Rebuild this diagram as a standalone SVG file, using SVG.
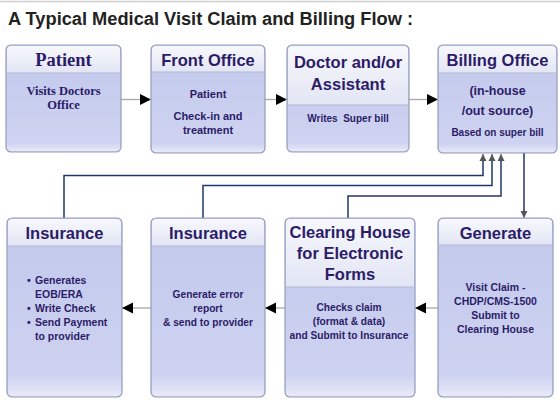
<svg xmlns="http://www.w3.org/2000/svg" width="560" height="406" viewBox="0 0 560 406">
<defs>
<linearGradient id="gBody" x1="0" y1="0" x2="0" y2="1">
<stop offset="0" stop-color="#c2c8ec"/>
<stop offset="1" stop-color="#cfd4f1"/>
</linearGradient>
<linearGradient id="gHead" x1="0" y1="0" x2="0" y2="1">
<stop offset="0" stop-color="#f7f8fc"/>
<stop offset="1" stop-color="#e2e5f4"/>
</linearGradient>
<linearGradient id="gFoot" x1="0" y1="0" x2="0" y2="1">
<stop offset="0" stop-color="#ced3f1"/>
<stop offset="1" stop-color="#e8eaf7"/>
</linearGradient>
<marker id="ah" markerUnits="userSpaceOnUse" markerWidth="12" markerHeight="12" viewBox="0 0 12 12" refX="11" refY="6" orient="auto">
<path d="M0,0.5 L11,6 L0,11.5 Z" fill="#000"/>
</marker>
<marker id="sh" markerUnits="userSpaceOnUse" markerWidth="8" markerHeight="8" viewBox="0 0 8 8" refX="7" refY="4" orient="auto">
<path d="M0,0.5 L7,4 L0,7.5 Z" fill="#555"/>
</marker>
</defs>
<style>
.box{fill:url(#gBody);stroke:#959cbb;stroke-width:1.2}
.head{fill:url(#gHead)}
.hline{stroke:#b3b9d4;stroke-width:1}
.foot{fill:url(#gFoot)}
.t{font-family:"Liberation Sans",Arial,sans-serif;font-weight:bold;fill:#2c1c68;text-anchor:middle}
.h{font-size:16.5px}
.s{font-family:"Liberation Serif","Times New Roman",serif}
.b{font-size:10.5px}
.flow{stroke:#a6a6a6;stroke-width:1.3;fill:none;marker-end:url(#ah)}
.fb{stroke:#1f3766;stroke-width:1.5;fill:none}
.fbh{marker-end:url(#sh)}
</style>
<rect x="0" y="0" width="560" height="406" fill="#fff"/>
<line x1="0" y1="1.5" x2="560" y2="1.5" stroke="#cfcfcf" stroke-width="1.5"/>
<text x="8" y="25" font-family="Liberation Sans,Arial,sans-serif" font-weight="bold" font-size="17.5" fill="#222" textLength="405" lengthAdjust="spacingAndGlyphs">A Typical Medical Visit Claim and Billing Flow :</text>

<g id="connectors">
<line class="flow" x1="121" y1="99.5" x2="151" y2="99.5"/>
<line class="flow" x1="265" y1="99.5" x2="287" y2="99.5"/>
<line class="flow" x1="409" y1="99.5" x2="438" y2="99.5"/>
<line class="flow" x1="438" y1="308" x2="415" y2="308"/>
<line class="flow" x1="285" y1="308" x2="265" y2="308"/>
<line class="flow" x1="151" y1="308" x2="122" y2="308"/>
<path class="fb" d="M64,218 V175.5 H483 V160"/>
<path class="fb" d="M203,218 V185.5 H492 V160"/>
<path class="fb" d="M348,218 V196 H501 V160"/>
<line class="fbh" stroke="#555" stroke-width="1" x1="483" y1="162" x2="483" y2="154"/>
<line class="fbh" stroke="#555" stroke-width="1" x1="492" y1="162" x2="492" y2="154"/>
<line class="fbh" stroke="#555" stroke-width="1" x1="501" y1="162" x2="501" y2="154"/>
<line class="fb" x1="524" y1="153" x2="524" y2="211"/>
<line class="fbh" stroke="#555" stroke-width="1" x1="524" y1="209" x2="524" y2="218"/>
</g>

<g id="patient">
<rect class="box" x="6" y="45" width="115" height="107" rx="5"/>
<path class="head" d="M7,73 V50 Q7,46 11,46 H116 Q120,46 120,50 V73 Z"/>
<line class="hline" x1="7" y1="73" x2="120" y2="73"/>
<path class="foot" d="M7,143 H120 V147 Q120,151 116,151 H11 Q7,151 7,147 Z"/>
<text class="t s" x="63.5" y="66" font-size="18.5">Patient</text>
<text class="t s" x="63.5" y="95" font-size="12.5">Visits Doctors</text>
<text class="t s" x="63.5" y="109" font-size="12.5">Office</text>
</g>

<g id="front-office">
<rect class="box" x="151" y="45" width="114" height="108" rx="5"/>
<path class="head" d="M152,72 V50 Q152,46 156,46 H260 Q264,46 264,50 V72 Z"/>
<line class="hline" x1="152" y1="72" x2="264" y2="72"/>
<path class="foot" d="M152,144 H264 V148 Q264,152 260,152 H156 Q152,152 152,148 Z"/>
<text class="t h" x="208" y="66">Front Office</text>
<text class="t" x="208" y="98" font-size="11">Patient</text>
<text class="t" x="208" y="120" font-size="11">Check-in and</text>
<text class="t" x="208" y="134" font-size="11">treatment</text>
</g>

<g id="doctor">
<rect class="box" x="287" y="45" width="122" height="107" rx="5"/>
<path class="head" d="M288,105 V50 Q288,46 292,46 H404 Q408,46 408,50 V105 Z"/>
<line class="hline" x1="288" y1="105" x2="408" y2="105"/>
<path class="foot" d="M288,143 H408 V147 Q408,151 404,151 H292 Q288,151 288,147 Z"/>
<text class="t h" x="348" y="68">Doctor and/or</text>
<text class="t h" x="348" y="90">Assistant</text>
<text class="t" x="348" y="122" font-size="10" style="white-space:pre">Writes  Super bill</text>
</g>

<g id="billing-office">
<rect class="box" x="438" y="45" width="119" height="108" rx="5"/>
<path class="head" d="M439,73 V50 Q439,46 443,46 H552 Q556,46 556,50 V73 Z"/>
<line class="hline" x1="439" y1="73" x2="556" y2="73"/>
<path class="foot" d="M439,144 H556 V148 Q556,152 552,152 H443 Q439,152 439,148 Z"/>
<text class="t h" x="497.5" y="66">Billing Office</text>
<text class="t" x="497.5" y="95" font-size="12.5">(in-house</text>
<text class="t" x="497.5" y="115" font-size="12.5">/out source)</text>
<text class="t" x="497.5" y="136" font-size="10">Based on super bill</text>
</g>

<g id="insurance-payment">
<rect class="box" x="7" y="218" width="115" height="179" rx="5"/>
<path class="head" d="M8,246 V223 Q8,219 12,219 H117 Q121,219 121,223 V246 Z"/>
<line class="hline" x1="8" y1="246" x2="121" y2="246"/>
<path class="foot" d="M8,376 H121 V392 Q121,396 117,396 H12 Q8,396 8,392 Z"/>
<text class="t h" x="64.5" y="239">Insurance</text>
<g font-family="Liberation Sans,Arial,sans-serif" font-weight="bold" font-size="10.5" fill="#2c1c68">
<text x="27" y="284">•</text><text x="35" y="284">Generates</text>
<text x="35" y="298">EOB/ERA</text>
<text x="27" y="312">•</text><text x="35" y="312">Write Check</text>
<text x="27" y="326">•</text><text x="35" y="326">Send Payment</text>
<text x="35" y="340">to provider</text>
</g>
</g>

<g id="insurance-error">
<rect class="box" x="151" y="218" width="114" height="179" rx="5"/>
<path class="head" d="M152,246 V223 Q152,219 156,219 H260 Q264,219 264,223 V246 Z"/>
<line class="hline" x1="152" y1="246" x2="264" y2="246"/>
<path class="foot" d="M152,376 H264 V392 Q264,396 260,396 H156 Q152,396 152,392 Z"/>
<text class="t h" x="208" y="239">Insurance</text>
<text class="t" x="208" y="298" font-size="10.2">Generate error</text>
<text class="t" x="208" y="312" font-size="10.2">report</text>
<text class="t" x="208" y="326" font-size="10.2">&amp; send to provider</text>
</g>

<g id="clearing-house">
<rect class="box" x="285" y="218" width="130" height="179" rx="5"/>
<path class="head" d="M286,287 V223 Q286,219 290,219 H410 Q414,219 414,223 V287 Z"/>
<line class="hline" x1="286" y1="287" x2="414" y2="287"/>
<path class="foot" d="M286,376 H414 V392 Q414,396 410,396 H290 Q286,396 286,392 Z"/>
<text class="t h" x="350" y="238">Clearing House</text>
<text class="t h" x="350" y="259">for Electronic</text>
<text class="t h" x="350" y="280">Forms</text>
<text class="t" x="349" y="311" font-size="10.2">Checks claim</text>
<text class="t" x="349" y="325" font-size="10.2">(format &amp; data)</text>
<text class="t" x="349" y="339" font-size="10.2">and Submit to Insurance</text>
</g>

<g id="generate">
<rect class="box" x="438" y="218" width="115" height="179" rx="5"/>
<path class="head" d="M439,245 V223 Q439,219 443,219 H548 Q552,219 552,223 V245 Z"/>
<line class="hline" x1="439" y1="245" x2="552" y2="245"/>
<path class="foot" d="M439,376 H552 V392 Q552,396 548,396 H443 Q439,396 439,392 Z"/>
<text class="t h" x="495.5" y="239">Generate</text>
<text class="t b" x="495.5" y="291">Visit Claim -</text>
<text class="t b" x="495.5" y="305">CHDP/CMS-1500</text>
<text class="t b" x="495.5" y="319">Submit to</text>
<text class="t b" x="495.5" y="333">Clearing House</text>
</g>
</svg>
